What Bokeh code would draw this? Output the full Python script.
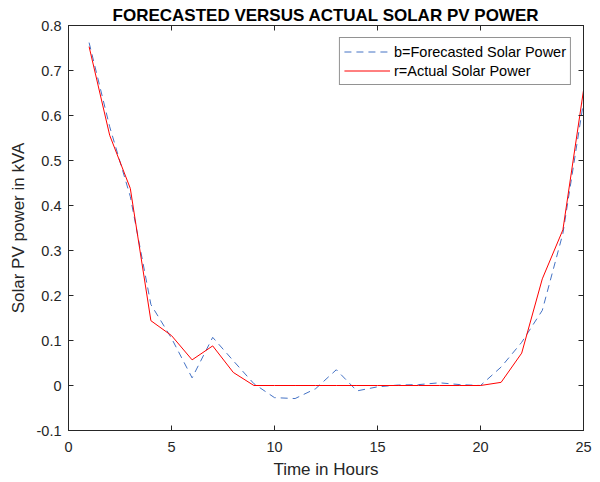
from bokeh.plotting import figure
from bokeh.models import LinearAxis, FixedTicker, CustomJSTickFormatter, Legend, LegendItem, Range1d
from bokeh.embed import file_html
from bokeh.resources import INLINE

hours = list(range(1, 26))
forecast = [0.762, 0.575, 0.42, 0.18, 0.105, 0.017, 0.107, 0.055, 0.004, -0.027,
            -0.029, -0.007, 0.035, -0.012, -0.003, 0.001, 0.002, 0.006, 0.002, 0.0,
            0.041, 0.096, 0.167, 0.338, 0.63]
actual = [0.753, 0.556, 0.438, 0.144, 0.111, 0.057, 0.088, 0.029, 0.0, 0.0,
          0.0, 0.0, 0.0, 0.0, 0.0, 0.0, 0.0, 0.0, 0.0, 0.0,
          0.007, 0.072, 0.237, 0.346, 0.656]
xticks = [0, 5, 10, 15, 20, 25]
yticks = [-0.1, 0, 0.1, 0.2, 0.3, 0.4, 0.5, 0.6, 0.7, 0.8]

FONT = "Liberation Sans"
TXT = "#262626"

p = figure(width=592, height=481, output_backend="svg", toolbar_location=None,
           x_range=Range1d(0, 25), y_range=Range1d(-0.1, 0.8),
           min_border_left=68, min_border_right=9, min_border_top=25, min_border_bottom=43)
p.title.text = "FORECASTED VERSUS ACTUAL SOLAR PV POWER"
p.title.align = "center"
p.title.vertical_align = "middle"
p.title.text_font = FONT
p.title.text_font_size = "17px"
p.title.text_font_style = "bold"
p.title.text_color = "#000000"
p.title.standoff = 0
p.title.offset = 0

p.xgrid.visible = False
p.ygrid.visible = False
p.outline_line_color = "#262626"

fmt = CustomJSTickFormatter(code="return String(Number(tick.toFixed(2)));")
blank = CustomJSTickFormatter(code="return '';")

bottom = p.xaxis[0]
left = p.yaxis[0]
bottom.ticker = FixedTicker(ticks=xticks)
bottom.axis_label = "Time in Hours"
left.ticker = FixedTicker(ticks=yticks)
left.formatter = fmt
left.axis_label = "Solar PV power in kVA"

top = LinearAxis(ticker=FixedTicker(ticks=xticks), formatter=blank)
right = LinearAxis(ticker=FixedTicker(ticks=yticks), formatter=blank)
p.add_layout(top, "above")
p.add_layout(right, "right")

for ax in [bottom, left, top, right]:
    ax.major_tick_in = 5
    ax.major_tick_out = 0
    ax.minor_tick_in = 0
    ax.minor_tick_out = 0
    ax.axis_line_color = "#262626"
    ax.major_tick_line_color = "#262626"
    ax.major_label_text_font = FONT
    ax.major_label_text_color = TXT
    ax.major_label_text_font_size = "14.5px"
    ax.axis_label_text_font = FONT
    ax.axis_label_text_color = TXT
    ax.axis_label_text_font_style = "normal"
    ax.axis_label_text_font_size = "17px"

top.major_label_standoff = 0
right.major_label_standoff = 0
bottom.axis_label_standoff = 5
left.axis_label_standoff = 6
bottom.major_label_standoff = 11
left.major_label_standoff = 7

r1 = p.line(hours, forecast, line_color="#4472C4", line_width=1, line_dash="7 5")
r2 = p.line(hours, actual, line_color="#FF0000", line_width=1)

legend = Legend(items=[LegendItem(label="b=Forecasted Solar Power", renderers=[r1]),
                       LegendItem(label="r=Actual Solar Power", renderers=[r2])],
                location="top_right")
legend.label_text_font = FONT
legend.label_text_font_size = "14.5px"
legend.label_text_color = "#000000"
legend.glyph_width = 46
legend.glyph_height = 19
legend.label_height = 19
legend.label_standoff = 4
legend.spacing = 0
legend.padding = 4
legend.margin = 12
legend.border_line_color = "#262626"
legend.border_line_width = 1
legend.background_fill_alpha = 1
p.add_layout(legend, "center")

open("out.html", "w").write(file_html(p, INLINE))
